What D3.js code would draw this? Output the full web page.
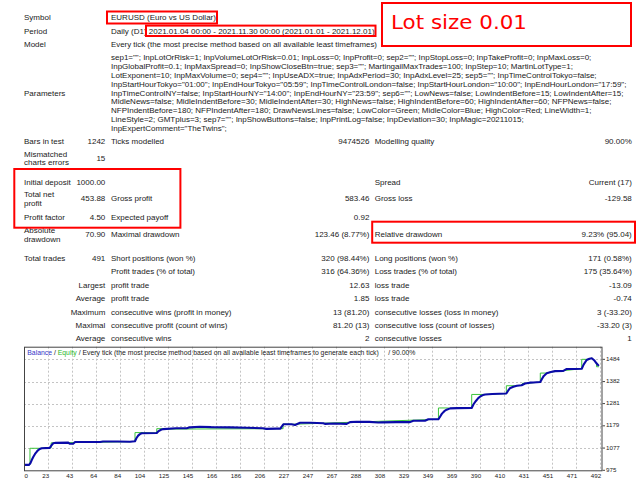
<!DOCTYPE html>
<html><head><meta charset="utf-8">
<script src="https://cdn.jsdelivr.net/npm/d3@7/dist/d3.min.js"></script>
<style>
html,body{margin:0;padding:0;background:#fff;}
svg{display:block;font-family:"Liberation Sans",Arial,sans-serif;}
text{white-space:pre;}
</style></head><body>
<svg id="c" width="640" height="480"></svg>
<script>
// ---------- data ----------
const headerLabels = ["Symbol", "Period", "Model"];
const headerValues = [
  "EURUSD (Euro vs US Dollar)",
  "Daily (D1) 2021.01.04 00:00 - 2021.11.30 00:00 (2021.01.01 - 2021.12.01)",
  "Every tick (the most precise method based on all available least timeframes)"
];
const paramLabel = "Parameters";
const paramLines = [
  'sep1=""; InpLotOrRisk=1; InpVolumeLotOrRisk=0.01; InpLoss=0; InpProfit=0; sep2=""; InpStopLoss=0; InpTakeProfit=0; InpMaxLoss=0;',
  'InpGlobalProfit=0.1; InpMaxSpread=0; InpShowCloseBtn=true; sep3=""; MartingailMaxTrades=100; InpStep=10; MartinLotType=1;',
  'LotExponent=10; InpMaxVolume=0; sep4=""; InpUseADX=true; InpAdxPeriod=30; InpAdxLevel=25; sep5=""; InpTimeControlTokyo=false;',
  'InpStartHourTokyo="01:00"; InpEndHourTokyo="05:59"; InpTimeControlLondon=false; InpStartHourLondon="10:00"; InpEndHourLondon="17:59";',
  'InpTimeControlNY=false; InpStartHourNY="14:00"; InpEndHourNY="23:59"; sep6=""; LowNews=false; LowIndentBefore=15; LowIndentAfter=15;',
  'MidleNews=false; MidleIndentBefore=30; MidleIndentAfter=30; HighNews=false; HighIndentBefore=60; HighIndentAfter=60; NFPNews=false;',
  'NFPIndentBefore=180; NFPIndentAfter=180; DrawNewsLines=false; LowColor=Green; MidleColor=Blue; HighColor=Red; LineWidth=1;',
  'LineStyle=2; GMTplus=3; sep7=""; InpShowButtons=false; InpPrintLog=false; InpDeviation=30; InpMagic=20211015;',
  'InpExpertComment="TheTwins";'
];
const statLabel1 = [["Bars in test"],["Mismatched","charts errors"],["Initial deposit"],["Total net","profit"],["Profit factor"],["Absolute","drawdown"],["Total trades"],[""],[""],[""],[""],[""],[""]];
const statValue1 = ["1242","15","1000.00","453.88","4.50","70.90","491","","Largest","Average","Maximum","Maximal","Average"];
const statLabel2 = ["Ticks modelled","","","Gross profit","Expected payoff","Maximal drawdown","Short positions (won %)","Profit trades (% of total)","profit trade","profit trade","consecutive wins (profit in money)","consecutive profit (count of wins)","consecutive wins"];
const statValue2 = ["9474526","","","583.46","0.92","123.46 (8.77%)","320 (98.44%)","316 (64.36%)","12.63","1.85","13 (81.20)","81.20 (13)","2"];
const statLabel3 = ["Modelling quality","","Spread","Gross loss","","Relative drawdown","Long positions (won %)","Loss trades (% of total)","loss trade","loss trade","consecutive losses (loss in money)","consecutive loss (count of losses)","consecutive losses"];
const statValue3 = ["90.00%","","Current (17)","-129.58","","9.23% (95.04)","171 (0.58%)","175 (35.64%)","-13.09","-0.74","3 (-33.20)","-33.20 (3)","1"];
const noteText = "Lot size 0.01";

const chartTitleParts = ["Balance", " / ", "Equity", " / Every tick (the most precise method based on all available least timeframes to generate each tick)     / 90.00%"];
const xTickLabels = [0,23,43,64,84,104,125,145,166,186,206,227,247,267,288,308,329,349,369,390,410,431,451,471,492];
const yTickLabels = [975,1077,1179,1281,1382,1484];

const balanceTrade = [0,4.3,5.5,6.6,8,9.4,11,12.2,13.5,15.1,22,23.5,25,27,37.8,39,42,43.6,55,65,67.5,80,90.5,94.8,96,97.5,99,100.5,113.4,115,117,119,130,139,141.8,150,160,176,190,204,207,216,219,221.5,228.6,231.5,235.8,245,255.7,257,265,275.6,278.5,284,295,302.6,305.5,318,329.7,332.6,342.5,345.4,354,355.5,357,359,361,364,370,382.4,384,386,388,390,392,394,400,412,413.5,415,418,421,425,428,432,435,441,442.5,444,446.5,450,453.6,460.7,463.6,470,476.4,478,480.6,483,485,487,489,491];
const balanceValue = [1000,1000,1008,1022,1037,1050,1061,1068,1073,1076,1078,1090,1099,1101,1102,1097,1097,1105,1105,1105,1107,1107,1106,1108,1122,1134,1141,1145,1146,1155,1161,1164,1168,1168,1172,1175,1173,1172,1170,1168,1165,1166,1166,1186,1186,1183,1193,1193,1191,1188,1190,1188,1196,1198,1197,1194,1195,1196,1196,1202,1202,1209,1209,1222,1235,1246,1253,1259,1260,1261,1278,1293,1306,1315,1320,1323,1325,1327,1340,1351,1358,1363,1365,1373,1377,1378,1380,1395,1408,1420,1426,1430,1431,1440,1440,1441,1460,1481,1487,1489,1480,1466,1453.88];
const equityTrade = [0,5.1,5.1,13.7,15.1,22,23.2,23.2,26.5,27,90.5,94.8,94.8,102,113.4,113.4,118,119,219,221.3,221.3,228.6,354,354,362,364,382.4,382.4,392,394,412,412,419,421,425,426,428,441,441,447,450,476.4,476.4,482,485,487,489,489,491];
const equityValue = [1000,1000,1076,1076,1076,1078,1078,1101,1101,1101,1106,1108,1148,1148,1146,1166,1166,1164,1166,1166,1187,1186,1209,1261,1261,1259,1261,1323,1323,1323,1327,1363,1363,1363,1365,1375,1373,1380,1421,1421,1426,1441,1484,1484,1489,1480,1466,1450,1450];

// ---------- layout ----------
const svg = d3.select("#c");
const ink = "#1a1a1a";
const FS = 8;
const colL = 24, colV1 = 105.3, colL2 = 111, colV2 = 369.4, colL3 = 374.7, colV3 = 631.8;
const headerY = [17, 30.7, 43.8];
const paramY0 = 57.5, paramDy = 8.8;
const statY = [141.5, 158, 182, 198.5, 217.5, 234.3, 257.7, 271, 285, 298.3, 311.7, 324.8, 338];
const base = 2.9;

function txt(x, y, s, anchor, size, color) {
  return svg.append("text").attr("x", x).attr("y", y + base * (size||FS) / FS)
    .attr("text-anchor", anchor || "start").attr("font-size", size || FS)
    .attr("fill", color || ink).text(s);
}

headerLabels.forEach((s, i) => txt(colL, headerY[i], s));
headerValues.forEach((s, i) => {
  const t = txt(colL2, headerY[i], s);
  if (i === 2) t.attr("textLength", 266).attr("lengthAdjust", "spacingAndGlyphs");
});
paramLines.forEach((s, i) => txt(colL2, paramY0 + i * paramDy, s));
txt(colL, paramY0 + 4 * paramDy, paramLabel);

statY.forEach((y, i) => {
  const l1 = statLabel1[i];
  if (l1.length === 2) { txt(colL, y - 4.4, l1[0]); txt(colL, y + 4.4, l1[1]); }
  else if (l1[0]) txt(colL, y, l1[0]);
  if (statValue1[i]) txt(colV1, y, statValue1[i], "end");
  if (statLabel2[i]) txt(colL2, y, statLabel2[i]);
  if (statValue2[i]) txt(colV2, y, statValue2[i], "end");
  if (statLabel3[i]) txt(colL3, y, statLabel3[i]);
  if (statValue3[i]) txt(colV3, y, statValue3[i], "end");
});

// ---------- chart ----------
const L = 24, R = 602.5, T = 346.7, B = 470.3;
const x = d3.scaleLinear().domain([0, 492]).range([24, 600]);
const xg = d3.scaleLinear().domain([0, xTickLabels.length - 1]).range([24, 600]);
const y = d3.scaleLinear().domain([975, 1542]).range([B, T]);

const g = svg.append("g");
// grid
g.selectAll("line.vg").data(d3.range(1, xTickLabels.length)).enter().append("line")
  .attr("x1", d => Math.round(xg(d)) + 0.5).attr("x2", d => Math.round(xg(d)) + 0.5)
  .attr("y1", T).attr("y2", B).attr("stroke", "#c4c4c4").attr("stroke-width", 1).attr("stroke-dasharray", "2,2");
g.selectAll("line.hg").data(yTickLabels.slice(1)).enter().append("line")
  .attr("x1", L).attr("x2", R).attr("y1", d => Math.round(y(d)) + 0.5).attr("y2", d => Math.round(y(d)) + 0.5)
  .attr("stroke", "#c4c4c4").attr("stroke-width", 1).attr("stroke-dasharray", "2,2");

// equity then balance
const eqPts = equityTrade.map((t, i) => [t, equityValue[i]]);
const balPts = balanceTrade.map((t, i) => [t, balanceValue[i]]);
const line = d3.line().x(d => x(d[0])).y(d => y(d[1]));
g.append("path").attr("d", line(eqPts)).attr("fill", "none").attr("stroke", "#3cc43c").attr("stroke-width", 1);
g.append("path").attr("d", line(balPts)).attr("fill", "none").attr("stroke", "#0a0aa8").attr("stroke-width", 2.1)
  .attr("stroke-linejoin", "round");

// frame
g.append("rect").attr("x", L + 0.5).attr("y", T + 0.5).attr("width", R - L - 1).attr("height", B - T)
  .attr("fill", "none").attr("stroke", "#444").attr("stroke-width", 1);

// y labels
yTickLabels.forEach(v => {
  g.append("line").attr("x1", R).attr("x2", R + 2.5).attr("y1", y(v)).attr("y2", y(v)).attr("stroke", "#444");
  txt(606, y(v) - 0.6, String(v), "start", 6.2);
});
// x labels
xTickLabels.forEach((v, i) => {
  if (i === 0) txt(L + 0.5, 475.6, String(v), "start", 6.2);
  else txt(xg(i) + 1.2, 475.6, String(v), "end", 6.2);
});

// title
const tt = svg.append("text").attr("x", 27.3).attr("y", 352.3 + 2.4).attr("font-size", 6.85).attr("fill", ink);
const tcol = ["#3535c8", ink, "#28b828", ink];
chartTitleParts.forEach((s, i) => tt.append("tspan").attr("fill", tcol[i]).text(s));

// ---------- red annotation boxes ----------
const boxes = [[107, 11.5, 217, 23.5], [146, 25.6, 375.5, 36], [382, 3, 631, 46], [14.3, 169, 180.4, 227.7], [372.2, 221.7, 635, 242.7]];
boxes.forEach(b => svg.append("rect").attr("x", b[0]).attr("y", b[1]).attr("width", b[2] - b[0]).attr("height", b[3] - b[1])
  .attr("fill", "none").attr("stroke", "#ff0000").attr("stroke-width", 2));
svg.append("text").attr("x", 391).attr("y", 29).attr("font-family", "'DejaVu Sans',sans-serif").attr("font-size", 20)
  .attr("fill", "#ff0000").attr("textLength", 136).attr("lengthAdjust", "spacingAndGlyphs").text(noteText);
</script>
</body></html>
